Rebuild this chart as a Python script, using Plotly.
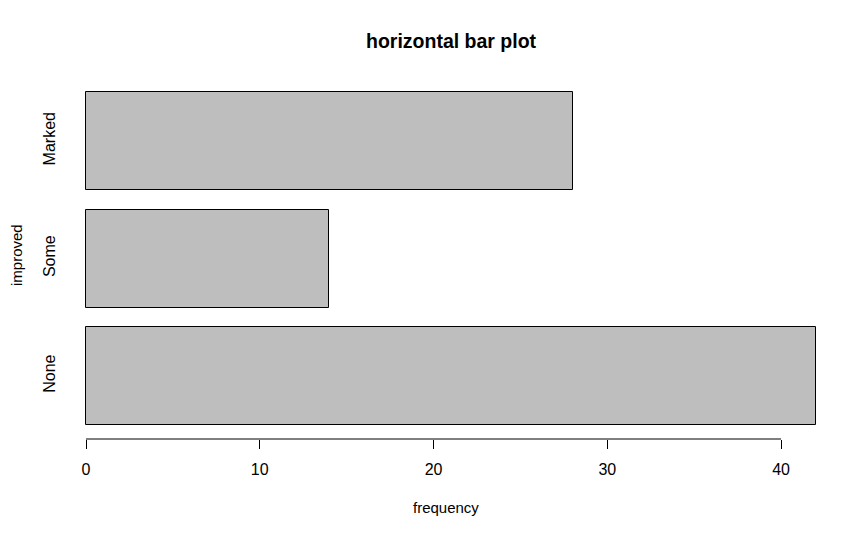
import plotly.graph_objects as go

categories = ["None", "Some", "Marked"]
frequency = [42, 14, 28]
bar_positions = [0.7, 1.9, 3.1]
x_ticks = [0, 10, 20, 30, 40]

FONT = "Liberation Sans, Arial, sans-serif"
OFF = 8  # page body margin

fig = go.Figure()
fig.add_trace(go.Bar(
    x=frequency, y=bar_positions, orientation="h", width=1,
    marker=dict(color="#BEBEBE", line=dict(color="black", width=1)),
    hoverinfo="x+text", text=categories, textposition="none",
))

W, H = 857, 536
# target plot area in page pixels: x 57..845, y 76..439
ml = 57 - OFF
mt = 76 - OFF
mr = W - (845 - OFF)
mb = H - (439 - OFF)
pw = W - ml - mr
ph = H - mt - mb
bottom_fig = H - mb

fig.update_layout(
    width=W, height=H,
    margin=dict(l=ml, r=mr, t=mt, b=mb, pad=0),
    plot_bgcolor="white", paper_bgcolor="white",
    showlegend=False,
    font=dict(family=FONT, size=16, color="black"),
    xaxis=dict(range=[-1.669, 43.68], tickvals=x_ticks, ticks="outside", ticklen=9,
               tickwidth=1, tickcolor="black", showline=False, showgrid=False,
               zeroline=False, tickfont=dict(size=16), ticklabelstandoff=7),
    yaxis=dict(range=[0.057, 3.765], tickvals=bar_positions, ticktext=categories,
               tickangle=-90, ticks="", showline=False, showgrid=False,
               zeroline=False, tickfont=dict(size=16), ticklabelstandoff=-2),
    bargap=0,
)

fig.add_shape(type="line", xref="x", yref="paper", x0=x_ticks[0], x1=x_ticks[-1],
              y0=0, y1=0, line=dict(color="black", width=1))

fig.add_annotation(text="<b>horizontal bar plot</b>", xref="paper", yref="paper",
                   x=0.5, y=(bottom_fig - (41 - OFF)) / ph, showarrow=False,
                   yanchor="middle", font=dict(size=19.5, family=FONT))
fig.add_annotation(text="frequency", xref="paper", yref="paper",
                   x=(446 - OFF - ml) / pw, y=-((507 - OFF) - bottom_fig) / ph,
                   showarrow=False, yanchor="middle", font=dict(size=15, family=FONT))
fig.add_annotation(text="improved", xref="paper", yref="paper",
                   x=(16 - OFF - ml) / pw, y=(bottom_fig - (255 - OFF)) / ph,
                   showarrow=False, xanchor="center", yanchor="middle", textangle=-90,
                   font=dict(size=15, family=FONT))

fig.write_html("out.html")
